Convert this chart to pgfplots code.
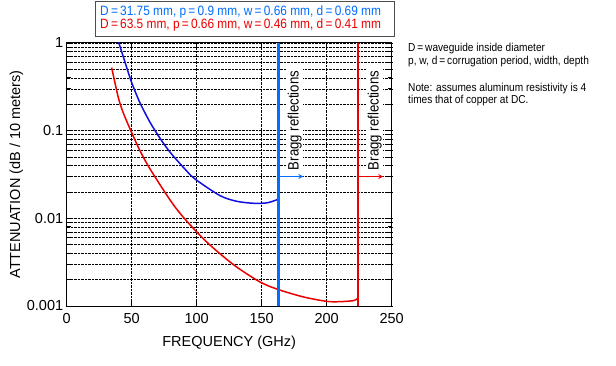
\documentclass[border=0pt]{standalone}
\usepackage{pgfplots}
\pgfplotsset{compat=1.18}
\usepackage{fontspec}
\setmainfont{Liberation Sans}
\newfontfamily\cond[FakeStretch=0.88]{Liberation Sans}
\definecolor{cblue}{RGB}{15,15,225}
\definecolor{vblue}{RGB}{0,110,255}
\definecolor{cred}{RGB}{235,0,0}
\begin{document}
\begin{tikzpicture}
\useasboundingbox (-66.7pt,-60pt) rectangle (549.3pt,306pt);
\begin{axis}[
  at={(0pt,0pt)}, anchor=south west,
  scale only axis, width=325pt, height=263pt,
  xmin=0, xmax=250, ymode=log, ymin=0.001, ymax=1,
  xtick={0,50,100,150,200,250},
  minor x tick num=0,
  ytick={0.001,0.01,0.1,1},
  yticklabels={0.001,0.01,0.1,1},
  grid=both,
  major grid style={black, densely dotted, line width=0.6pt},
  minor grid style={black, densely dotted, line width=0.6pt},
  axis line style={black, line width=1pt},
  tick style={black, line width=0.8pt},
  major tick length=5pt, minor tick length=4pt,
  /pgf/number format/assume math mode=true,
  tick label style={font=\fontsize{14.5}{16}\selectfont},
  xticklabel style={yshift=-4pt},
  xlabel={FREQUENCY (GHz)},
  ylabel={ATTENUATION (dB / 10 meters)},
  label style={font=\fontsize{14.5}{16}\selectfont},
  xlabel style={yshift=-5pt},
  ylabel style={yshift=-3pt},
  clip=true,
]
\addplot[cblue, line width=1.5pt, smooth] coordinates {
(39.7,1.05) (44.8,0.608) (50.0,0.353) (56.4,0.2076) (64.1,0.1246) (71.8,0.0819) (79.5,0.0568)
(91.0,0.0364) (98.7,0.0281) (117.9,0.01817) (130.8,0.01565) (143.5,0.01486) (153.8,0.0150)
(161.5,0.01623) (163.3,0.0166)};
\addplot[cred, line width=1.5pt, smooth] coordinates {
(34.6,0.524) (39.7,0.239) (43.5,0.160) (49.5,0.0985) (56.4,0.059) (64.1,0.0366) (79.5,0.0162)
(89.7,0.0103) (105.1,0.00585) (117.9,0.00395) (130.8,0.00278) (148.7,0.00188) (162.8,0.00154)
(182,0.00127) (200,0.00113) (210,0.00112) (220.5,0.00115) (223.1,0.00120) (224.3,0.00123)};
\node[rotate=90, anchor=west, inner sep=1.5pt, fill=white, font=\cond\fontsize{15}{16}\selectfont] at (axis cs:175.5,0.034) {Bragg reflections};
\node[rotate=90, anchor=west, inner sep=1.5pt, fill=white, font=\cond\fontsize{15}{16}\selectfont] at (axis cs:237,0.034) {Bragg reflections};
\addplot[vblue, line width=2.2pt] coordinates {(163,0.001) (163,1)};
\addplot[cred, line width=2.2pt] coordinates {(224.3,0.001) (224.3,1)};
\addplot[vblue, line width=1.2pt, -stealth] coordinates {(163,0.03) (182,0.03)};
\addplot[cred, line width=1.2pt, -stealth] coordinates {(224.3,0.03) (243.5,0.03)};
\end{axis}
\draw[black!70, line width=0.6pt, fill=white] (28.3pt,270pt) rectangle (327.3pt,304.3pt);
\node[anchor=west, inner sep=0pt, text=vblue, font=\cond\fontsize{13.5}{14}\selectfont] at (33.3pt,294.3pt) {D\,=\,31.75 mm, p\,=\,0.9 mm, w\,=\,0.66 mm, d\,=\,0.69 mm};
\node[anchor=west, inner sep=0pt, text=cred, font=\cond\fontsize{13.5}{14}\selectfont] at (33.3pt,281pt) {D\,=\,63.5 mm, p\,=\,0.66 mm, w\,=\,0.46 mm, d\,=\,0.41 mm};
\begin{scope}[every node/.style={anchor=west, inner sep=0pt, font=\cond\fontsize{11.5}{12}\selectfont}]
\node at (341.3pt,257pt) {D\,=\,waveguide inside diameter};
\node at (341.3pt,244pt) {p, w, d\,=\,corrugation period, width, depth};
\node at (341.3pt,217pt) {Note: assumes aluminum resistivity is 4};
\node at (341.3pt,205pt) {times that of copper at DC.};
\end{scope}
\end{tikzpicture}
\end{document}
